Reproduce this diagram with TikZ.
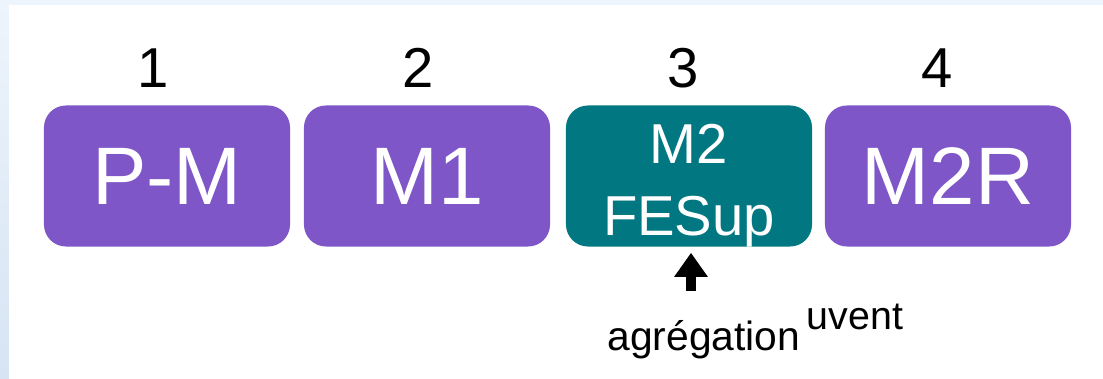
\documentclass[tikz,border=0pt]{standalone}
\usepackage{fontspec}
\setmainfont{Liberation Sans}
\usetikzlibrary{arrows.meta}
\definecolor{purplebox}{RGB}{126,86,199}
\definecolor{tealbox}{RGB}{0,119,129}
\definecolor{bgblue}{RGB}{238,244,251}
\definecolor{bgblueb}{RGB}{214,228,244}
\begin{document}
\begin{tikzpicture}[x=0.025cm, y=-0.025cm,
    yearbox/.style={rounded corners=0.55cm, minimum width=6.15cm, minimum height=3.525cm,
        text=white, font=\fontsize{58}{60}\selectfont, inner sep=0pt},
    yearnum/.style={anchor=base, font=\fontsize{40}{44}\selectfont},
    note/.style={anchor=base, font=\fontsize{29}{32}\selectfont, inner sep=0pt}]
        % Background frame
        \useasboundingbox (0,0) rectangle (1103,379);
        \fill[bgblue] (0,0) rectangle (1103,379);
        \shade[top color=bgblue, bottom color=bgblueb] (0,0) rectangle (9,379);
        \fill[white] (9,5) rectangle (1103,379);

        % Year boxes
        \node[yearbox, fill=purplebox] (pm) at (167,176) {P-M};
        \node[yearbox, fill=purplebox] (mone) at (427,176) {M1};
        \node[yearbox, fill=tealbox] (mfesup) at (689,176) {};
        \node[text=white, font=\fontsize{40}{51.2}\selectfont, align=center, inner sep=0pt]
            (mfesuptext) at ([yshift=-0.24cm]mfesup.center) {M2\\FESup};
        \node[yearbox, fill=purplebox] (mtwor) at (948,176) {M2R};

        % Year numbers
        \foreach \n/\x in {1/153, 2/418, 3/683, 4/937} {
            \node[yearnum] (num\n) at (\x,88) {\n};
        }

        % Competitive exam
        \node[note] (agreg) at (704,350) {agrégation};
        \node[note, font=\fontsize{28}{32}\selectfont] (souvent) at (855,330) {uvent};
        \coordinate (arrtail) at (691,291);
        \draw[-{Triangle[width=0.8cm, length=0.6cm]}, line width=6.5pt, shorten >=0.15cm]
            (arrtail) -- (arrtail |- mfesup.south);
\end{tikzpicture}
\end{document}
